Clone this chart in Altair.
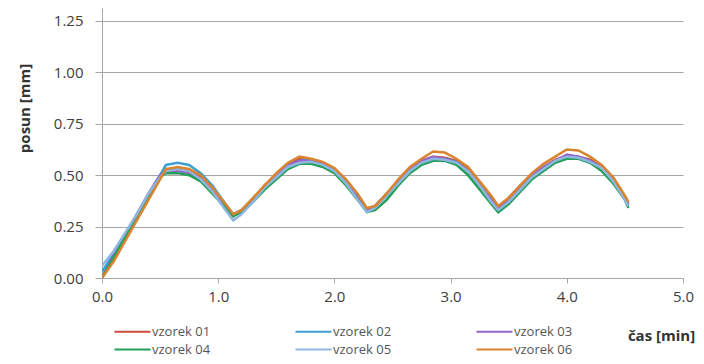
import altair as alt
import pandas as pd

T = [0.00, 0.10, 0.20, 0.30, 0.40, 0.50, 0.55,
     0.65, 0.75, 0.85, 0.95, 1.05, 1.13,
     1.20, 1.30, 1.40, 1.50, 1.60, 1.70,
     1.80, 1.90, 2.00, 2.10, 2.20, 2.28,
     2.35, 2.45, 2.55, 2.65, 2.75, 2.85,
     2.95, 3.05, 3.15, 3.25, 3.35, 3.41,
     3.50, 3.60, 3.70, 3.80, 3.90, 4.00,
     4.10, 4.20, 4.30, 4.40, 4.50, 4.53]

S01 = [0.00, 0.10, 0.20, 0.30, 0.40, 0.49, 0.53,
       0.53, 0.52, 0.49, 0.43, 0.36, 0.30,
       0.33, 0.38, 0.45, 0.50, 0.55, 0.58,
       0.575, 0.56, 0.53, 0.47, 0.40, 0.33,
       0.35, 0.41, 0.47, 0.53, 0.57, 0.59,
       0.585, 0.57, 0.53, 0.46, 0.39, 0.34,
       0.39, 0.45, 0.50, 0.54, 0.575, 0.595,
       0.59, 0.575, 0.545, 0.48, 0.39, 0.355]

S02 = [0.03, 0.12, 0.21, 0.31, 0.41, 0.50, 0.55,
       0.56, 0.55, 0.51, 0.45, 0.37, 0.31,
       0.33, 0.38, 0.44, 0.49, 0.54, 0.57,
       0.575, 0.56, 0.53, 0.47, 0.40, 0.33,
       0.35, 0.40, 0.46, 0.52, 0.56, 0.58,
       0.58, 0.565, 0.52, 0.45, 0.38, 0.34,
       0.38, 0.44, 0.50, 0.54, 0.57, 0.59,
       0.59, 0.57, 0.54, 0.48, 0.39, 0.36]

S03 = [0.00, 0.11, 0.21, 0.31, 0.41, 0.50, 0.52,
       0.52, 0.51, 0.48, 0.43, 0.36, 0.31,
       0.33, 0.38, 0.45, 0.50, 0.55, 0.57,
       0.57, 0.555, 0.52, 0.46, 0.39, 0.33,
       0.35, 0.41, 0.47, 0.53, 0.57, 0.59,
       0.58, 0.56, 0.52, 0.45, 0.38, 0.34,
       0.38, 0.44, 0.50, 0.54, 0.57, 0.60,
       0.59, 0.57, 0.54, 0.47, 0.39, 0.36]

S04 = [0.00, 0.10, 0.20, 0.30, 0.40, 0.49, 0.51,
       0.51, 0.50, 0.47, 0.41, 0.35, 0.30,
       0.32, 0.37, 0.43, 0.48, 0.53, 0.555,
       0.555, 0.54, 0.51, 0.45, 0.38, 0.32,
       0.33, 0.38, 0.45, 0.51, 0.55, 0.57,
       0.57, 0.55, 0.50, 0.43, 0.36, 0.32,
       0.36, 0.42, 0.48, 0.52, 0.56, 0.58,
       0.58, 0.56, 0.52, 0.46, 0.38, 0.34]

S05 = [0.06, 0.13, 0.22, 0.31, 0.41, 0.49, 0.52,
       0.53, 0.52, 0.48, 0.42, 0.34, 0.28,
       0.31, 0.37, 0.44, 0.49, 0.54, 0.56,
       0.565, 0.55, 0.52, 0.46, 0.38, 0.32,
       0.34, 0.40, 0.46, 0.52, 0.56, 0.58,
       0.575, 0.56, 0.52, 0.45, 0.37, 0.33,
       0.37, 0.43, 0.49, 0.53, 0.57, 0.59,
       0.585, 0.565, 0.535, 0.47, 0.38, 0.35]

S06 = [0.00, 0.08, 0.18, 0.28, 0.38, 0.48, 0.53,
       0.54, 0.53, 0.50, 0.44, 0.37, 0.31,
       0.33, 0.39, 0.45, 0.51, 0.56, 0.59,
       0.58, 0.565, 0.535, 0.48, 0.41, 0.34,
       0.35, 0.41, 0.48, 0.54, 0.58, 0.615,
       0.61, 0.58, 0.54, 0.47, 0.40, 0.35,
       0.39, 0.45, 0.51, 0.555, 0.59, 0.625,
       0.62, 0.59, 0.55, 0.49, 0.40, 0.37]

SERIES = ["vzorek 01", "vzorek 02", "vzorek 03", "vzorek 04", "vzorek 05", "vzorek 06"]
COLORS = ["#cf4a3e", "#3f9fd2", "#9466c9", "#22a05a", "#8fb6df", "#d9842e"]
VALUES = [S01, S02, S03, S04, S05, S06]

X_TICKS = [0, 1, 2, 3, 4, 5]
Y_TICKS = [0, 0.25, 0.5, 0.75, 1.0, 1.25]

rows = []
for name, vals in zip(SERIES, VALUES):
    for i, (t, v) in enumerate(zip(T, vals)):
        rows.append({"cas": t, "posun": v, "vzorek": name, "i": i})
df = pd.DataFrame(rows)

FONT = "Open Sans"
GRID = "#a6a6a6"

chart = alt.Chart(df).mark_line(strokeWidth=2.5, clip=True).encode(
    x=alt.X("cas:Q",
            scale=alt.Scale(domain=[0, 5], nice=False, zero=False),
            axis=alt.Axis(values=X_TICKS, format=".1f", grid=False,
                          title="čas [min]", titleFont=FONT, titleFontSize=15,
                          titleFontWeight="bold", titleColor="#333333",
                          titleX=559, titleY=57, titleAlign="center",
                          titleBaseline="middle", titleAngle=0,
                          labelFont=FONT, labelFontSize=15, labelColor="#404040",
                          labelPadding=6, tickSize=5, tickColor=GRID,
                          domainColor=GRID, labelFlush=False)),
    y=alt.Y("posun:Q",
            scale=alt.Scale(domain=[0, 1.313], nice=False),
            axis=alt.Axis(values=Y_TICKS, format=".2f", grid=True,
                          gridColor=GRID, gridWidth=1,
                          title="posun [mm]", titleFont=FONT, titleFontSize=15,
                          titleFontWeight="bold", titleColor="#333333",
                          titleX=-78, titleY=100, titleAngle=270,
                          titleAlign="center", titleBaseline="middle",
                          labelFont=FONT, labelFontSize=15, labelColor="#404040",
                          labelPadding=12, tickSize=7, tickColor=GRID,
                          domainColor=GRID, labelFlush=False)),
    color=alt.Color("vzorek:N",
                    scale=alt.Scale(domain=SERIES, range=COLORS),
                    legend=alt.Legend(title=None, orient="none", legendX=5, legendY=316,
                                      direction="horizontal", columns=3, padding=0,
                                      symbolType="M0,0H6", symbolSize=144,
                                      symbolStrokeWidth=2.2, labelOffset=30,
                                      columnPadding=77, rowPadding=3,
                                      labelFont=FONT, labelFontSize=13,
                                      labelColor="#555555")),
    order="i:Q",
).properties(
    width=581,
    height=270,
    autosize=alt.AutoSizeParams(type="none"),
    padding={"left": 94, "top": 0, "right": 13, "bottom": 78},
).configure_view(stroke=None)

chart.save("out.html", embed_options={"renderer": "svg", "actions": False})
